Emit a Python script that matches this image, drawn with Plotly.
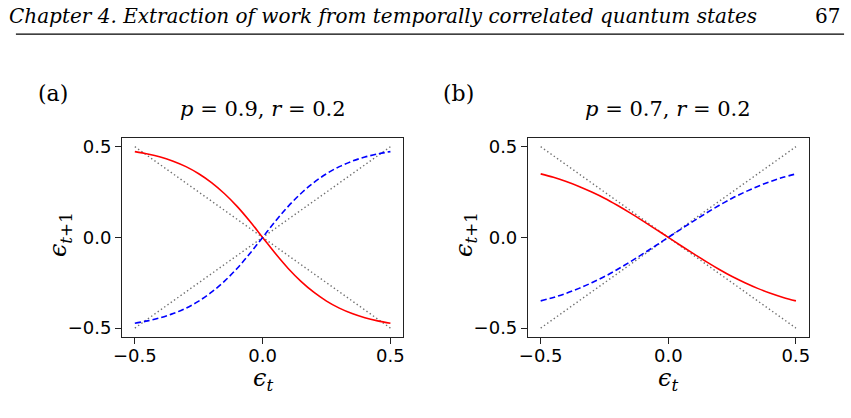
import plotly.graph_objects as go

W, H = 851, 418

# ---- data ----
eps_t = [-0.5, -0.45, -0.4, -0.35, -0.3, -0.25, -0.2, -0.15, -0.1, -0.05, 0.0,
         0.05, 0.1, 0.15, 0.2, 0.25, 0.3, 0.35, 0.4, 0.45, 0.5]

# panel (a): p = 0.9, r = 0.2
a_red = [0.473, 0.460, 0.443, 0.420, 0.390, 0.351, 0.302, 0.242, 0.171, 0.089, 0.0,
         -0.089, -0.171, -0.242, -0.302, -0.351, -0.390, -0.420, -0.443, -0.460, -0.473]
a_blue = [-0.473, -0.460, -0.443, -0.420, -0.390, -0.351, -0.302, -0.242, -0.171, -0.089, 0.0,
          0.089, 0.171, 0.242, 0.302, 0.351, 0.390, 0.420, 0.443, 0.460, 0.473]

# panel (b): p = 0.7, r = 0.2
b_red = [0.350, 0.331, 0.308, 0.281, 0.250, 0.216, 0.177, 0.135, 0.091, 0.046, 0.0,
         -0.046, -0.091, -0.135, -0.177, -0.216, -0.250, -0.281, -0.308, -0.331, -0.350]
b_blue = [-0.350, -0.331, -0.308, -0.281, -0.250, -0.216, -0.177, -0.135, -0.091, -0.046, 0.0,
          0.046, 0.091, 0.135, 0.177, 0.216, 0.250, 0.281, 0.308, 0.331, 0.350]

diag_x = [-0.5, 0.5]
diag_up = [-0.5, 0.5]
diag_down = [0.5, -0.5]

titles = ["<i>p</i> = 0.9, <i>r</i> = 0.2", "<i>p</i> = 0.7, <i>r</i> = 0.2"]
panel_labels = ["(a)", "(b)"]
tick_vals = [-0.5, 0.0, 0.5]
tick_text = ["\u22120.5", "0.0", "0.5"]

header_text = "Chapter 4. Extraction of work from temporally correlated quantum states"
page_no = "67"


def px(x):
    return x / W


def py(y):
    return 1 - y / H


fig = go.Figure()

panels = [
    dict(red=a_red, blue=a_blue, xd=(114.4, 398.9), xa="x", ya="y"),
    dict(red=b_red, blue=b_blue, xd=(525.1, 809.2), xa="x2", ya="y2"),
]
y_top, y_bot = 136.6, 337.6

SERIF = "DejaVu Serif, Liberation Serif, serif"

for i, pnl in enumerate(panels):
    common = dict(xaxis=pnl["xa"], yaxis=pnl["ya"], mode="lines", showlegend=False,
                  hoverinfo="skip")
    fig.add_trace(go.Scatter(x=diag_x, y=diag_down,
                             line=dict(color="#707070", width=1.4, dash="1.4px,2.6px"), **common))
    fig.add_trace(go.Scatter(x=diag_x, y=diag_up,
                             line=dict(color="#707070", width=1.4, dash="1.4px,2.6px"), **common))
    fig.add_trace(go.Scatter(x=eps_t, y=pnl["red"], line_shape="spline",
                             line=dict(color="#ff0000", width=1.6), **common))
    fig.add_trace(go.Scatter(x=eps_t, y=pnl["blue"], line_shape="spline",
                             line=dict(color="#0000ff", width=1.6, dash="6px,3px"), **common))

    axcommon = dict(range=[-0.55, 0.55], showgrid=False, zeroline=False, showline=True,
                    mirror=True, linecolor="#222", linewidth=1, ticks="outside",
                    ticklen=6, tickwidth=1, tickcolor="#222",
                    tickvals=tick_vals, ticktext=tick_text,
                    tickfont=dict(family="DejaVu Sans", size=18, color="black"))
    sfx = "" if i == 0 else str(i + 1)
    fig.layout["xaxis" + sfx] = dict(domain=[px(pnl["xd"][0]), px(pnl["xd"][1])],
                                      anchor="y" + sfx, ticklabelstandoff=-4, **axcommon)
    fig.layout["yaxis" + sfx] = dict(domain=[py(y_bot), py(y_top)],
                                      anchor="x" + sfx, **axcommon)

    cx = (pnl["xd"][0] + pnl["xd"][1]) / 2
    # subplot title
    fig.add_annotation(x=px(cx), y=py(108), xref="paper", yref="paper",
                       text=titles[i], showarrow=False, xanchor="center", yanchor="middle",
                       font=dict(family=SERIF, size=21, color="black"))
    # panel label
    fig.add_annotation(x=px(pnl["xd"][0] - 70), y=py(92), xref="paper", yref="paper",
                       text=panel_labels[i], showarrow=False, xanchor="center", yanchor="middle",
                       font=dict(family=SERIF, size=22, color="black"))
    # x label
    fig.add_annotation(x=px(cx), y=py(380), xref="paper", yref="paper",
                       text="<i>\u03f5</i><sub><i>t</i></sub>", showarrow=False,
                       xanchor="center", yanchor="middle",
                       font=dict(family=SERIF, size=24, color="black"))
    # y label
    fig.add_annotation(x=px(pnl["xd"][0] - 63), y=py(234), xref="paper", yref="paper",
                       text="<i>\u03f5</i><sub><i>t</i>+1</sub>", showarrow=False,
                       textangle=-90, xanchor="center", yanchor="middle",
                       font=dict(family=SERIF, size=24, color="black"))

# page header
fig.add_annotation(x=px(-2), y=py(14.5), xref="paper", yref="paper", text="<i>" + header_text + "</i>",
                   showarrow=False, xanchor="left", align="left", yanchor="middle",
                   font=dict(family=SERIF, size=20, color="black"))
fig.add_annotation(x=px(843), y=py(14.5), xref="paper", yref="paper", text=page_no,
                   showarrow=False, xanchor="right", align="right", yanchor="middle",
                   font=dict(family=SERIF, size=20, color="black"))
fig.add_shape(type="line", xref="paper", yref="paper", x0=px(7), x1=px(845),
              y0=py(32.3), y1=py(32.3), line=dict(color="black", width=1.3))

fig.update_layout(width=W, height=H, margin=dict(l=0, r=0, t=0, b=0),
                  paper_bgcolor="white", plot_bgcolor="white")

fig.write_html("out.html")
